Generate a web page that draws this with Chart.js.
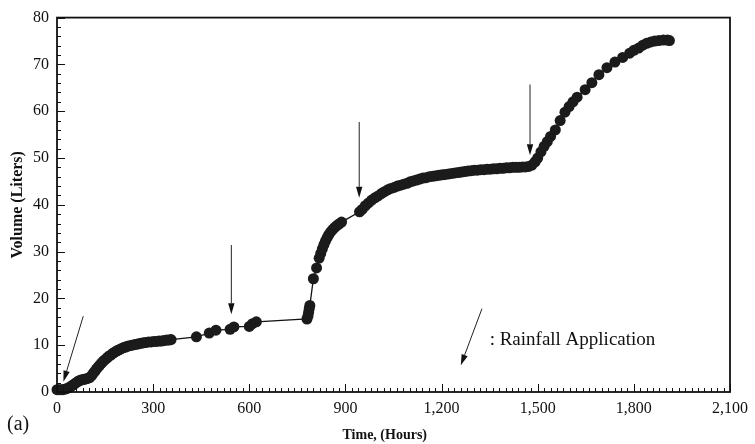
<!DOCTYPE html>
<html><head><meta charset="utf-8">
<script src="https://cdn.jsdelivr.net/npm/chart.js@4.4.1/dist/chart.umd.min.js"></script>
<style>html,body{margin:0;padding:0;background:#fff;}#wrap{width:755px;height:444px;position:relative;}</style>
</head><body><div id="wrap"><canvas id="c" width="755" height="444"></canvas></div>
<script>
// ---- data ----
const hours = [
  0,6,12,18,24,30,36,42,48,54,60,66,72,78,84,90,96,102,108,113,118,123,128,133,138,143,148,153,158,163,168,173,178,184,190,196,202,208,214,220,227,234,241,248,255,262,270,278,286,294,302,310,318,326,334,342,350,356,
  435,475,496,540,552,600,610,622,
  780,783,785,787,789,800,810,818,823,828,833,838,843,848,854,860,866,872,880,888,
  944,952,962,972,982,992,1002,1012,1022,1032,1042,1052,1062,1072,1082,1092,1102,1112,1122,1132,1142,1152,1162,1172,1182,1192,1202,1212,1222,1232,1242,1252,1262,1272,1282,1292,1302,1312,1322,1332,1342,1352,1362,1372,1382,1392,1402,1412,1422,1432,1442,1452,1462,1472,
  1482,1492,1500,1510,1520,1530,1540,1555,1570,1585,1598,1610,1623,1648,1669,1691,1716,1741,1765,1787,1800,1815,1828,1840,1853,1865,1878,1892,1905,1911
];
const volume = [
  0.5,0.5,0.5,0.5,0.6,0.7,0.9,1.1,1.4,1.7,2.0,2.3,2.5,2.6,2.7,2.8,2.9,3.1,3.5,4.0,4.4,4.9,5.3,5.7,6.1,6.5,6.8,7.1,7.4,7.7,7.9,8.2,8.4,8.7,8.9,9.1,9.3,9.5,9.6,9.8,9.9,10.0,10.1,10.2,10.3,10.4,10.5,10.6,10.7,10.7,10.8,10.8,10.9,10.9,11.0,11.1,11.1,11.2,
  11.8,12.6,13.2,13.4,13.9,14.0,14.6,15.0,
  15.6,16.2,17.0,17.8,18.5,24.2,26.5,28.6,29.6,30.6,31.5,32.3,33.0,33.6,34.2,34.7,35.1,35.5,35.9,36.3,
  38.5,39.0,39.8,40.4,41.0,41.5,41.9,42.4,42.8,43.2,43.5,43.7,44.0,44.2,44.4,44.6,44.9,45.1,45.3,45.5,45.7,45.8,46.0,46.1,46.2,46.3,46.4,46.5,46.6,46.7,46.8,46.9,47.0,47.1,47.2,47.3,47.4,47.4,47.5,47.5,47.6,47.6,47.7,47.7,47.8,47.8,47.9,47.9,48.0,48.0,48.0,48.1,48.1,48.2,
  48.5,49.2,50.0,51.3,52.5,53.5,54.6,56.0,58.0,59.8,61.0,62.0,63.0,64.6,66.1,67.8,69.3,70.5,71.5,72.4,73.0,73.5,74.1,74.5,74.8,75.0,75.1,75.2,75.2,75.1
];
const xTickValues = [0,300,600,900,1200,1500,1800,2100];
const yTickValues = [0,10,20,30,40,50,60,70,80];
// rainfall arrows (data units): from -> to
const arrowFromH = [82, 544, 943, 1476, 1326];
const arrowFromV = [16.2, 31.4, 57.7, 65.7, 17.8];
const arrowToH   = [20, 544, 943, 1476, 1260];
const arrowToV   = [2.2, 16.6, 41.5, 50.6, 5.7];
const legendText = ': Rainfall Application';
const legendAt = [1350, 10.1];
const panelLabel = '(a)';

const SERIF = "'Liberation Serif','Times New Roman',serif";

const decor = {
  id: 'decor',
  afterDraw(chart) {
    const {ctx, chartArea: a, scales: {x, y}} = chart;
    ctx.save();
    ctx.strokeStyle = '#111';
    // inside ticks
    ctx.lineWidth = 1;
    ctx.beginPath();
    for (let v = 0; v <= 2100; v += 20) {
      const px = Math.round(x.getPixelForValue(v)) + 0.5;
      const len = (v % 300 === 0) ? 8 : 4;
      ctx.moveTo(px, a.bottom); ctx.lineTo(px, a.bottom - len);
    }
    for (let v = 0; v <= 80; v += 2) {
      const py = Math.round(y.getPixelForValue(v)) + 0.5;
      const len = (v % 10 === 0) ? 8 : 4;
      ctx.moveTo(a.left, py); ctx.lineTo(a.left + len, py);
    }
    ctx.stroke();
    // frame
    ctx.lineWidth = 1.8;
    ctx.strokeRect(a.left, a.top, a.right - a.left, a.bottom - a.top);
    // arrows
    ctx.lineWidth = 1;
    ctx.strokeStyle = '#222';
    ctx.fillStyle = '#111';
    for (let i = 0; i < arrowFromH.length; i++) {
      const x1 = x.getPixelForValue(arrowFromH[i]), y1 = y.getPixelForValue(arrowFromV[i]);
      const x2 = x.getPixelForValue(arrowToH[i]), y2 = y.getPixelForValue(arrowToV[i]);
      const ang = Math.atan2(y2 - y1, x2 - x1);
      const L = 11, W = 3.2;
      const bx = x2 - L * Math.cos(ang), by = y2 - L * Math.sin(ang);
      ctx.beginPath(); ctx.moveTo(x1, y1); ctx.lineTo(bx, by); ctx.stroke();
      ctx.beginPath();
      ctx.moveTo(x2, y2);
      ctx.lineTo(bx + W * Math.sin(ang), by - W * Math.cos(ang));
      ctx.lineTo(bx - W * Math.sin(ang), by + W * Math.cos(ang));
      ctx.closePath(); ctx.fill();
    }
    // legend text
    ctx.fillStyle = '#111';
    ctx.font = "19px " + SERIF;
    ctx.textAlign = 'left'; ctx.textBaseline = 'alphabetic';
    ctx.fillText(legendText, x.getPixelForValue(legendAt[0]), y.getPixelForValue(legendAt[1]));
    // panel label
    ctx.font = "20px " + SERIF;
    ctx.fillText(panelLabel, 7, 430);
    ctx.restore();
  }
};

new Chart(document.getElementById('c'), {
  type: 'scatter',
  data: {
    datasets: [{
      data: hours.map((h, i) => ({x: h, y: volume[i]})),
      showLine: true,
      borderColor: '#111',
      borderWidth: 1.3,
      pointRadius: 5.5,
      pointBackgroundColor: '#1b1b1b',
      pointBorderWidth: 0,
      clip: false
    }]
  },
  options: {
    responsive: false, animation: false, devicePixelRatio: 1,
    layout: {padding: {top: 12, right: 21, bottom: 0, left: 0}},
    plugins: {legend: {display: false}, tooltip: {enabled: false}},
    scales: {
      x: {
        type: 'linear', min: 0, max: 2100,
        afterBuildTicks: s => { s.ticks = xTickValues.map(v => ({value: v})); },
        grid: {display: false, drawTicks: false},
        border: {display: false},
        ticks: {padding: 7, color: '#111', autoSkip: false, maxRotation: 0,
          font: {family: SERIF, size: 16},
          callback: v => Number(v).toLocaleString('en-US')},
        title: {display: true, text: 'Time, (Hours)     ', color: '#111',
          font: {family: SERIF, size: 14, weight: 'bold'}, padding: {top: 0, bottom: 0}},
        afterFit: s => { s.height = 52; }
      },
      y: {
        type: 'linear', min: 0, max: 80,
        afterBuildTicks: s => { s.ticks = yTickValues.map(v => ({value: v})); },
        grid: {display: false, drawTicks: false},
        border: {display: false},
        ticks: {padding: 8, color: '#111', font: {family: SERIF, size: 16}},
        title: {display: true, text: 'Volume (Liters)', color: '#111',
          font: {family: SERIF, size: 16, weight: 'bold'}, padding: {top: 8, bottom: 0}},
        afterFit: s => { s.width = 57; }
      }
    }
  },
  plugins: [decor]
});
</script></body></html>
